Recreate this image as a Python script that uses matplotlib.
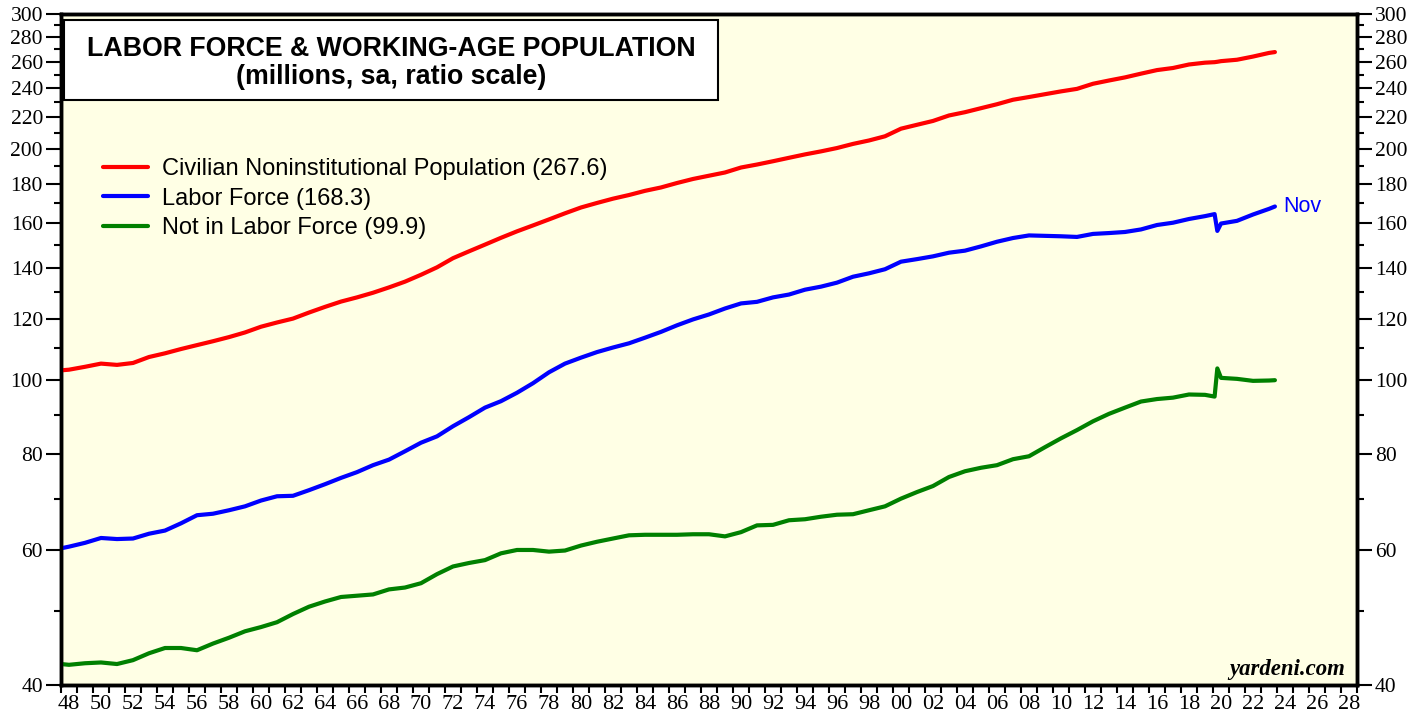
import matplotlib
matplotlib.use("Agg")
import matplotlib.pyplot as plt
from matplotlib.patches import Rectangle
from matplotlib.ticker import FixedLocator, NullFormatter
import numpy as np

# monthly series, thinned to roughly annual points (millions)
dates = [1948.0] + [y + 0.5 for y in range(1948, 2020)] + [2020.1, 2020.27, 2020.5, 2021.5, 2022.5, 2023.5, 2023.87]

population = [102.9,
    103.1, 104.0, 105.0, 104.6, 105.2, 107.1, 108.3, 109.7, 111.0, 112.3,
    113.7, 115.3, 117.3, 118.8, 120.2, 122.4, 124.5, 126.5, 128.1, 129.9,
    132.0, 134.3, 137.1, 140.2, 144.1, 147.1, 150.1, 153.2, 156.2, 159.0,
    161.9, 164.9, 167.8, 170.1, 172.3, 174.2, 176.4, 178.2, 180.6, 182.8,
    184.6, 186.4, 189.2, 190.9, 192.8, 194.8, 196.8, 198.6, 200.6, 203.1,
    205.2, 207.8, 212.6, 215.1, 217.6, 221.2, 223.4, 226.1, 228.8, 231.9,
    233.8, 235.8, 237.8, 239.6, 243.3, 245.7, 248.0, 250.8, 253.5, 255.1,
    257.8, 259.2,
    259.6, 259.9, 260.4, 261.5, 264.0, 266.9, 267.6]

labor_force = [60.3,
    60.6, 61.3, 62.2, 62.0, 62.1, 63.0, 63.6, 65.0, 66.6, 66.9,
    67.6, 68.4, 69.6, 70.5, 70.6, 71.8, 73.1, 74.5, 75.8, 77.4,
    78.7, 80.7, 82.8, 84.4, 87.0, 89.4, 92.0, 93.8, 96.2, 99.0,
    102.3, 105.0, 106.9, 108.7, 110.2, 111.6, 113.5, 115.5, 117.8, 119.9,
    121.7, 123.9, 125.8, 126.4, 128.1, 129.2, 131.1, 132.3, 133.9, 136.3,
    137.7, 139.4, 142.6, 143.7, 144.9, 146.5, 147.4, 149.3, 151.4, 153.1,
    154.3, 154.1, 153.9, 153.6, 155.0, 155.4, 155.9, 157.1, 159.2, 160.3,
    162.1, 163.5,
    164.5, 156.4, 159.9, 161.2, 164.3, 167.1, 168.3]

not_in_lf = [42.6,
    42.5, 42.7, 42.8, 42.6, 43.1, 44.0, 44.7, 44.7, 44.4, 45.3,
    46.1, 47.0, 47.6, 48.3, 49.5, 50.6, 51.4, 52.1, 52.3, 52.5,
    53.3, 53.6, 54.3, 55.8, 57.1, 57.7, 58.2, 59.4, 60.0, 60.0,
    59.7, 59.9, 60.8, 61.5, 62.1, 62.7, 62.8, 62.8, 62.8, 62.9,
    62.9, 62.5, 63.3, 64.6, 64.7, 65.6, 65.8, 66.3, 66.7, 66.8,
    67.6, 68.4, 70.0, 71.4, 72.7, 74.7, 76.0, 76.8, 77.4, 78.8,
    79.5, 81.7, 83.9, 86.0, 88.3, 90.3, 92.0, 93.7, 94.4, 94.8,
    95.7, 95.6,
    95.1, 103.5, 100.6, 100.3, 99.7, 99.8, 99.9]

labels = ["Civilian Noninstitutional Population (267.6)",
          "Labor Force (168.3)",
          "Not in Labor Force (99.9)"]
colors = ["#ff0000", "#0000ff", "#008000"]

y_major = [40, 60, 80, 100, 120, 140, 160, 180, 200, 220, 240, 260, 280, 300]
y_minor = [50, 70, 90, 110, 130, 150, 170, 190, 210, 230, 250, 270, 290]
x_years = list(range(1948, 2030))
x_label_years = list(range(1948, 2029, 2))

W, H = 1424, 717
fig = plt.figure(figsize=(W / 100, H / 100), dpi=100)
fig.patch.set_facecolor("white")
ax = fig.add_axes([61 / W, 1 - 685 / H, (1357 - 61) / W, (685 - 14) / H])
ax.set_facecolor("#ffffe5")

for vals, lab, col in zip([population, labor_force, not_in_lf], labels, colors):
    ax.plot(dates, vals, color=col, lw=3.0, label=lab, solid_capstyle="round", zorder=3)

ax.annotate("Nov", xy=(dates[-1], labor_force[-1]), xytext=(6, 0), textcoords="offset points",
            va="center", ha="left", color="#0000ff", fontsize=15.5, family="Liberation Sans")

ax.set_yscale("log")
ax.set_ylim(40, 300)
ax.set_xlim(1948, 2029)

serif = "Liberation Serif"


def style_y(a, right=False):
    a.yaxis.set_major_locator(FixedLocator(y_major))
    a.yaxis.set_minor_locator(FixedLocator(y_minor))
    a.set_yticklabels([str(v) for v in y_major], family=serif, fontsize=15.5)
    a.yaxis.set_minor_formatter(NullFormatter())
    a.tick_params(axis="y", which="major", direction="out", length=11, width=1.5, pad=2,
                  left=not right, right=right, labelleft=not right, labelright=right)
    a.tick_params(axis="y", which="minor", direction="out", length=5, width=1.5,
                  left=not right, right=right)


style_y(ax)
ax2 = ax.twinx()
ax2.set_yscale("log")
ax2.set_ylim(40, 300)
style_y(ax2, right=True)

ax.xaxis.set_major_locator(FixedLocator(x_years))
ax.set_xticklabels([])
ax.xaxis.set_minor_locator(FixedLocator([y + 0.5 for y in x_label_years]))
ax.xaxis.set_minor_formatter(plt.FixedFormatter(["%02d" % (y % 100) for y in x_label_years]))
ax.tick_params(axis="x", which="major", direction="out", length=6, width=1.5)
ax.tick_params(axis="x", which="minor", length=0, pad=7, labelsize=16)
for t in ax.xaxis.get_minorticklabels():
    t.set_family(serif)

for a in (ax, ax2):
    for s in a.spines.values():
        s.set_linewidth(2.5)

leg = ax.legend(loc="upper left", bbox_to_anchor=(103 / W, 1 - 158 / H), bbox_transform=fig.transFigure,
                frameon=False, prop={"family": "Liberation Sans", "size": 17},
                handlelength=1.9, handletextpad=0.6, labelspacing=0.32, borderpad=0, borderaxespad=0)

# title box
fig.patches.append(Rectangle((64 / W, 1 - 100 / H), (718 - 64) / W, 80 / H, transform=fig.transFigure,
                             facecolor="white", edgecolor="black", lw=1.5, zorder=5))
fig.text(391 / W, 1 - 49 / H, "LABOR FORCE & WORKING-AGE POPULATION", ha="center", va="center",
         fontsize=19.3, fontweight="bold", family="Liberation Sans", zorder=6)
fig.text(391 / W, 1 - 77 / H, "(millions, sa, ratio scale)", ha="center", va="center",
         fontsize=19.3, fontweight="bold", family="Liberation Sans", zorder=6)

ax.text((1345 - 61) / 1296, (685 - 670) / 671, "yardeni.com", transform=ax.transAxes, ha="right",
        va="center", fontsize=16.4, fontweight="bold", style="italic", family=serif)

fig.savefig("out.png", dpi=100)
